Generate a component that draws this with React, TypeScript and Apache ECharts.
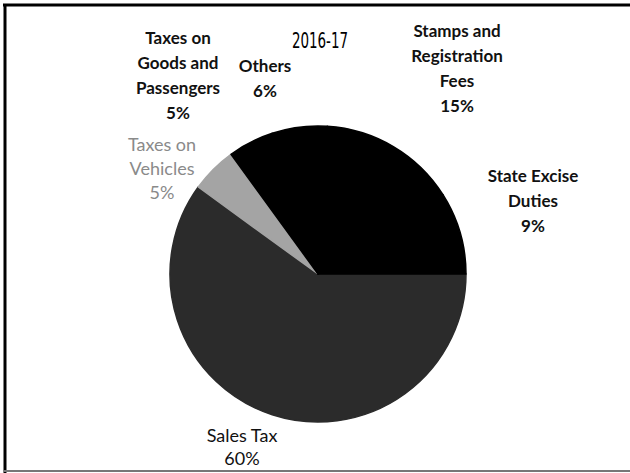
import React, { useEffect, useRef } from "react";
import * as echarts from "echarts";

const categories = [
  "Sales Tax",
  "Taxes on\nVehicles",
  "Taxes on\nGoods and\nPassengers",
  "Others",
  "Stamps and\nRegistration\nFees",
  "State Excise\nDuties",
];
const values = [60, 5, 5, 6, 15, 9];
const sliceColors = ["#2b2b2b", "#a4a4a4", "#000000", "#000000", "#000000", "#000000"];
const labelColors = ["#111", "#8a8a8a", "#111", "#111", "#111", "#111"];
const labelWeights = ["normal", "normal", "bold", "bold", "bold", "bold"];
const labelPos = [
  [242, 446],
  [162, 168],
  [178, 75],
  [265, 78],
  [457, 68],
  [533, 200],
];
const titleText = "2016-17";

export default function App() {
  const ref = useRef<HTMLDivElement>(null);
  useEffect(() => {
    if (!ref.current) return;
    const chart = echarts.init(ref.current, undefined, { renderer: "svg" });
    chart.setOption({
      animation: false,
      backgroundColor: "#ffffff",
      graphic: [
        { type: "line", shape: { x1: 3, y1: 5, x2: 630, y2: 5 }, style: { stroke: "#000", lineWidth: 3 } },
        { type: "line", shape: { x1: 5, y1: 4, x2: 5, y2: 473 }, style: { stroke: "#000", lineWidth: 3 } },
        { type: "line", shape: { x1: 4, y1: 471, x2: 630, y2: 471 }, style: { stroke: "#777", lineWidth: 2 } },
        {
          type: "text",
          x: 320,
          y: 40,
          scaleX: 0.68,
          style: {
            text: titleText,
            fontFamily: "'Liberation Sans Narrow', 'DejaVu Sans Condensed', sans-serif",
            fontSize: 22,
            fill: "#000",
            align: "center",
            verticalAlign: "middle",
          },
        },
      ],
      series: [
        {
          type: "pie",
          center: [318, 274],
          radius: 148,
          startAngle: 0,
          clockwise: true,
          avoidLabelOverlap: false,
          labelLine: { show: false },
          label: {
            show: true,
            position: "outside",
            formatter: (p: any) => `${p.name}\n${p.value}%`,
            fontFamily: "Lato, 'Open Sans', sans-serif",
            fontSize: 18,
            lineHeight: 25,
            align: "center",
          },
          labelLayout: (params: any) => {
            const pos = labelPos[params.dataIndex];
            return { x: pos[0], y: pos[1], align: "center", verticalAlign: "middle" };
          },
          data: categories.map((name, i) => ({
            name,
            value: values[i],
            itemStyle: { color: sliceColors[i], borderColor: sliceColors[i], borderWidth: 1.5 },
            label: {
              color: labelColors[i],
              fontWeight: labelWeights[i],
              fontSize: i < 2 ? 18 : 17,
              lineHeight: i === 0 ? 23 : i === 1 ? 24 : 25,
            },
          })),
        },
      ],
    });
    return () => chart.dispose();
  }, []);
  return (
    <div
      ref={ref}
      style={{ position: "fixed", left: 0, top: 0, width: 630, height: 473 }}
    />
  );
}
